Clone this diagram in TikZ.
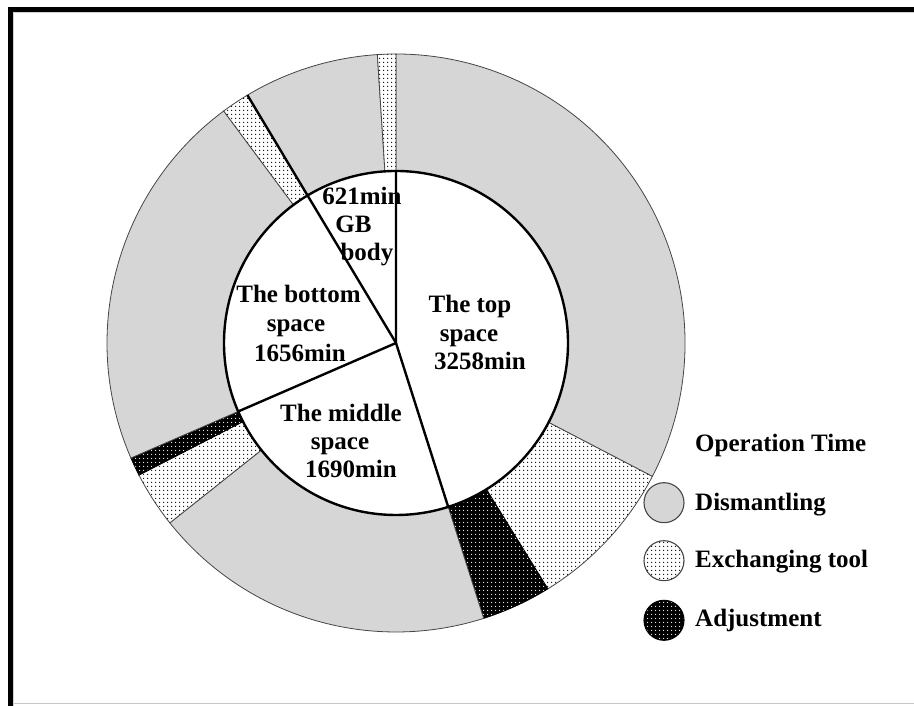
\documentclass[tikz,border=0pt]{standalone}
\usepackage{fontspec}
\setmainfont{Liberation Serif}
\usetikzlibrary{patterns.meta}
\definecolor{dism}{RGB}{214,214,214}
\definecolor{rim}{RGB}{70,70,70}
\newcommand\ringIn{172}
\newcommand\ringOut{289}
\newcommand\ringseg[3]{\path[#3] ([shift={(#1:\ringIn)}]C) arc[start angle=#1,end angle=#2,radius=\ringIn] -- ([shift={(#2:\ringOut)}]C) arc[start angle=#2,end angle=#1,radius=\ringOut] -- cycle;}
\begin{document}
\begin{tikzpicture}[x=1pt,y=1pt,
  dismfill/.style={fill=dism, draw=rim, line width=0.8pt},
  exfill/.style={preaction={fill=white}, pattern={Dots[distance=4pt,radius=0.8pt]}, pattern color=black, draw=rim, line width=0.8pt},
  adjfill/.style={preaction={fill=black}, pattern={Dots[distance=4pt,radius=0.65pt]}, pattern color=white, draw=black, line width=0.8pt},
  thickline/.style={line width=2.4pt, black},
  lbl/.style={font=\fontsize{25}{29}\selectfont\bfseries, inner sep=0pt, anchor=base},
  leg/.style={font=\fontsize{25}{29}\selectfont\bfseries, inner sep=0pt, anchor=base west},
  legdot/.style={circle, minimum size=40pt, inner sep=0pt, line width=1.1pt}]
\useasboundingbox (0,0) rectangle (914,706);
\coordinate (C) at (396,363);
% frame
\fill[black] (8,694) rectangle (914,699);
\fill[black] (8,0) rectangle (13,699);
\draw[gray!45, line width=1pt] (13,2) -- (914,2);
\draw[gray!35, line width=0.8pt] (13.5,0) -- (13.5,693.5) -- (914,693.5);
% outer ring
\ringseg{90}{-27.5}{dismfill}
\ringseg{-27.5}{-58.3}{exfill}
\ringseg{-58.3}{-72.335}{adjfill}
\ringseg{-72.335}{-141.5}{dismfill}
\ringseg{-141.5}{-152.8}{exfill}
\ringseg{-152.8}{-156.543}{adjfill}
\ringseg{-156.543}{-233.4}{dismfill}
\ringseg{126.6}{120.943}{exfill}
\ringseg{120.943}{93.7}{dismfill}
\ringseg{93.7}{90}{exfill}
% inner pie
\draw[thickline, fill=white] (C) circle[radius=172];
\draw[thickline] ([shift={(90:172)}]C) -- (C) -- ([shift={(-72.335:172)}]C);
\draw[thickline] (C) -- ([shift={(-156.543:172)}]C);
\draw[thickline] (C) -- ([shift={(120.943:289)}]C);
% inner labels
\node[lbl] (gb1) at (362,501) {621min};
\node[lbl] (gb2) at (353.5,473) {GB};
\node[lbl] (gb3) at (367,445) {body};
\node[lbl] (bot1) at (298.5,403) {The bottom};
\node[lbl] (bot2) at (296,374) {space};
\node[lbl] (bot3) at (300,344) {1656min};
\node[lbl] (top1) at (470,393) {The top};
\node[lbl] (top2) at (469,364) {space};
\node[lbl] (top3) at (480,336) {3258min};
\node[lbl] (mid1) at (341,284) {The middle};
\node[lbl] (mid2) at (340,256) {space};
\node[lbl] (mid3) at (351,228) {1690min};
% legend
\node[leg] (legtitle) at (695,254) {Operation Time};
\node[legdot, draw=rim, fill=dism] (c1) at (664,203.3) {};
\node[leg] (l1) at (695,195.3) {Dismantling};
\node[legdot, draw=rim, preaction={fill=white}, pattern={Dots[distance=4pt,radius=0.8pt]}, pattern color=black] (c2) at (664,145.3) {};
\node[leg] (l2) at (695,138) {Exchanging tool};
\node[legdot, draw=black, preaction={fill=black}, pattern={Dots[distance=4pt,radius=0.65pt]}, pattern color=white] (c3) at (664,85.7) {};
\node[leg] (l3) at (695,79.3) {Adjustment};
\end{tikzpicture}
\end{document}
